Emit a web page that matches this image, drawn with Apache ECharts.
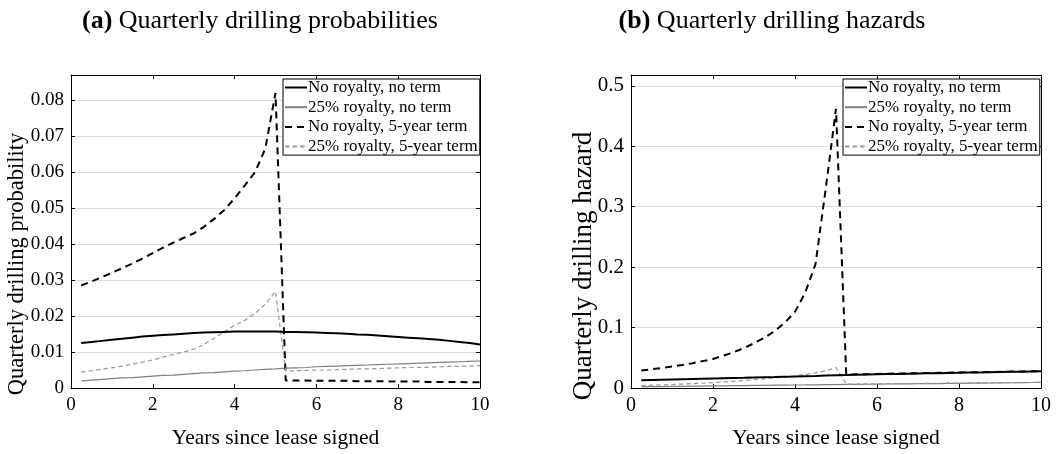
<!DOCTYPE html>
<html>
<head>
<meta charset="utf-8">
<script src="https://cdn.jsdelivr.net/npm/echarts@6/dist/echarts.min.js"></script>
<style>
html,body{margin:0;padding:0;background:#fff;}
#c{width:1061px;height:454px;}
</style>
</head>
<body>
<div id="c"></div>
<script>
// Quarterly time points (years since lease signed)
const years = [0.25,0.5,0.75,1.0,1.25,1.5,1.75,2.0,2.25,2.5,2.75,3.0,3.25,3.5,3.75,4.0,4.25,4.5,4.75,5.0,
               5.25,5.5,5.75,6.0,6.25,6.5,6.75,7.0,7.25,7.5,7.75,8.0,8.25,8.5,8.75,9.0,9.25,9.5,9.75,10.0];

const seriesNames = ['No royalty, no term','25% royalty, no term','No royalty, 5-year term','25% royalty, 5-year term'];

// (a) Quarterly drilling probabilities
const probNoRoyNoTerm = [0.0125,0.0128,0.0131,0.0134,0.0137,0.0140,0.0143,0.0145,0.0147,0.0149,0.0151,0.0153,0.0154,0.0155,0.0156,0.0157,0.0157,0.0157,0.0157,0.0157,
                         0.0156,0.0156,0.0155,0.0154,0.0153,0.0152,0.0151,0.0149,0.0148,0.0146,0.0144,0.0142,0.0140,0.0138,0.0136,0.0134,0.0131,0.0128,0.0125,0.0121];
const prob25NoTerm    = [0.0020,0.0022,0.0024,0.0026,0.0028,0.0029,0.0031,0.0033,0.0035,0.0036,0.0038,0.0040,0.0042,0.0043,0.0045,0.0047,0.0048,0.0050,0.0052,0.0053,
                         0.0055,0.0056,0.0057,0.0059,0.0060,0.0061,0.0062,0.0063,0.0064,0.0065,0.0066,0.0067,0.0068,0.0069,0.0070,0.0071,0.0072,0.0073,0.0074,0.0075];
const probNoRoyTerm   = [0.0285,0.0296,0.0308,0.0320,0.0333,0.0346,0.0360,0.0375,0.0390,0.0404,0.0417,0.0430,0.0448,0.0470,0.0495,0.0527,0.0563,0.0600,0.0665,0.0820,
                         0.0021,0.0021,0.0021,0.0020,0.0020,0.0020,0.0020,0.0019,0.0019,0.0019,0.0018,0.0018,0.0018,0.0018,0.0017,0.0017,0.0017,0.0017,0.0016,0.0016];
const prob25Term      = [0.0044,0.0048,0.0052,0.0056,0.0061,0.0066,0.0072,0.0078,0.0086,0.0093,0.0100,0.0108,0.0121,0.0138,0.0157,0.0174,0.0188,0.0207,0.0233,0.0268,
                         0.0047,0.0048,0.0049,0.0050,0.0050,0.0051,0.0052,0.0053,0.0053,0.0054,0.0055,0.0056,0.0057,0.0057,0.0058,0.0059,0.0060,0.0060,0.0061,0.0062];

// (b) Quarterly drilling hazards
const hazNoRoyNoTerm  = [0.0128,0.0133,0.0137,0.0141,0.0145,0.0149,0.0153,0.0157,0.0161,0.0165,0.0169,0.0174,0.0178,0.0182,0.0187,0.0191,0.0196,0.0200,0.0205,0.0210,
                         0.0214,0.0218,0.0222,0.0226,0.0230,0.0233,0.0237,0.0240,0.0243,0.0246,0.0249,0.0252,0.0255,0.0258,0.0261,0.0264,0.0267,0.0270,0.0273,0.0276];
const haz25NoTerm     = [0.0020,0.0022,0.0024,0.0026,0.0028,0.0030,0.0032,0.0034,0.0036,0.0038,0.0040,0.0042,0.0044,0.0046,0.0048,0.0050,0.0051,0.0053,0.0055,0.0057,
                         0.0059,0.0061,0.0062,0.0064,0.0066,0.0068,0.0069,0.0071,0.0073,0.0074,0.0076,0.0078,0.0080,0.0081,0.0083,0.0085,0.0087,0.0089,0.0091,0.0094];
const hazNoRoyTerm    = [0.0290,0.0310,0.0330,0.0355,0.0380,0.0410,0.0445,0.0480,0.0535,0.0590,0.0660,0.0740,0.0830,0.0940,0.1080,0.1260,0.1580,0.2050,0.3300,0.4620,
                         0.0222,0.0226,0.0229,0.0233,0.0236,0.0239,0.0242,0.0245,0.0248,0.0251,0.0254,0.0257,0.0260,0.0263,0.0265,0.0268,0.0271,0.0273,0.0276,0.0278];
const haz25Term       = [0.0040,0.0046,0.0052,0.0058,0.0065,0.0072,0.0080,0.0090,0.0100,0.0111,0.0123,0.0138,0.0152,0.0167,0.0184,0.0204,0.0225,0.0250,0.0285,0.0340,
                         0.0065,0.0066,0.0068,0.0069,0.0071,0.0072,0.0074,0.0075,0.0077,0.0078,0.0080,0.0081,0.0082,0.0084,0.0085,0.0087,0.0088,0.0089,0.0091,0.0092];

const xTicks = {min:0, max:10, interval:2};
const yTicksA = {min:0, max:0.087, interval:0.01};
const yTicksB = {min:0, max:0.518, interval:0.1};

const SERIF = 'Liberation Serif';
const styles = [
  {color:'#000000', width:2.0, type:'solid'},
  {color:'#808080', width:1.2, type:'solid'},
  {color:'#000000', width:2.0, type:[7,5]},
  {color:'#9a9a9a', width:1.2, type:[4.5,3]}
];

function pairs(vals){ return years.map((x,i)=>[x, vals[i]]); }

function mkSeries(vals, k, axIdx){
  const s = styles[k];
  return {
    name: seriesNames[k], type:'line', xAxisIndex:axIdx, yAxisIndex:axIdx,
    data: pairs(vals), symbol:'none', showSymbol:false, smooth:false,
    lineStyle:{color:s.color, width:s.width, type:s.type},
    itemStyle:{color:s.color},
    animation:false, z: k===0?5:3
  };
}

const axisLine = {show:true, onZero:false, lineStyle:{color:'#000', width:1}};
const axisTick = {show:true, inside:true, length:4, lineStyle:{color:'#000', width:1}};

function fmtY(v){ if (v===0) return '0'; return String(+v.toFixed(3)); }

const grids = [
  {left:71, top:75, width:409, height:325},
  {left:631, top:75, width:410, height:325}
];
const tickFont = [19, 21];
const xTickFont = [19, 20];

const xAxes = [], yAxes = [];
[0,1].forEach(g=>{
  const yT = g===0 ? yTicksA : yTicksB;
  xAxes.push({gridIndex:g, type:'value', position:'bottom', min:xTicks.min, max:xTicks.max, interval:xTicks.interval,
    axisLine, axisTick, splitLine:{show:false},
    axisLabel:{margin:8, fontFamily:SERIF, fontSize:xTickFont[g], color:'#000'},
    name:'Years since lease signed', nameLocation:'middle', nameGap:39,
    nameTextStyle:{fontFamily:SERIF, fontSize:21.5, color:'#000'}});
  xAxes.push({gridIndex:g, type:'value', position:'top', min:xTicks.min, max:xTicks.max, interval:xTicks.interval,
    axisLine, axisTick, splitLine:{show:false}, axisLabel:{show:false}});
  yAxes.push({gridIndex:g, type:'value', position:'left', min:yT.min, max:yT.max, interval:yT.interval,
    axisLine, axisTick,
    splitLine:{show:true, lineStyle:{color:'#dcdcdc', width:1}},
    axisLabel:{margin:7, showMaxLabel:false, formatter:fmtY, fontFamily:SERIF, fontSize:tickFont[g], color:'#000'}});
  yAxes.push({gridIndex:g, type:'value', position:'right', min:yT.min, max:yT.max, interval:yT.interval,
    axisLine, axisTick, splitLine:{show:false}, axisLabel:{show:false}});
});

const series = [
  mkSeries(probNoRoyNoTerm,0,0), mkSeries(prob25NoTerm,1,0), mkSeries(probNoRoyTerm,2,0), mkSeries(prob25Term,3,0),
  mkSeries(hazNoRoyNoTerm,0,2), mkSeries(haz25NoTerm,1,2), mkSeries(hazNoRoyTerm,2,2), mkSeries(haz25Term,3,2)
];

function mkLegend(left){
  return {
    orient:'vertical', left:left, top:79, data:seriesNames,
    itemWidth:22, itemHeight:14, itemGap:2.7,
    itemStyle:{opacity:0},
    backgroundColor:'#fff', borderColor:'#000', borderWidth:1,
    padding:[0,2,0,1],
    textStyle:{fontFamily:SERIF, fontSize:17, color:'#000', padding:[0,0,0,-4]},
    selectedMode:false
  };
}

const chart = echarts.init(document.getElementById('c'), null, {renderer:'canvas'});
chart.setOption({
  backgroundColor:'#fff',
  animation:false,
  title:[
    {text:'{b|(a)} Quarterly drilling probabilities', left:255, top:3, textAlign:'center',
     textStyle:{fontFamily:SERIF, fontSize:26, fontWeight:'normal', color:'#000',
       rich:{b:{fontFamily:SERIF, fontSize:26, fontWeight:'bold', color:'#000'}}}},
    {text:'{b|(b)} Quarterly drilling hazards', left:767, top:3, textAlign:'center',
     textStyle:{fontFamily:SERIF, fontSize:26, fontWeight:'normal', color:'#000',
       rich:{b:{fontFamily:SERIF, fontSize:26, fontWeight:'bold', color:'#000'}}}}
  ],
  graphic:[
    {type:'text', x:17, y:264, rotation:Math.PI/2,
     style:{text:'Quarterly drilling probability', fontFamily:SERIF, fontSize:22.5, fill:'#000', align:'center', verticalAlign:'middle'}},
    {type:'text', x:584, y:266, rotation:Math.PI/2,
     style:{text:'Quarterly drilling hazard', fontFamily:SERIF, fontSize:27, fill:'#000', align:'center', verticalAlign:'middle'}}
  ],
  legend:[mkLegend(283), mkLegend(843)],
  grid:grids,
  xAxis:xAxes,
  yAxis:yAxes,
  series:series
});
</script>
</body>
</html>
